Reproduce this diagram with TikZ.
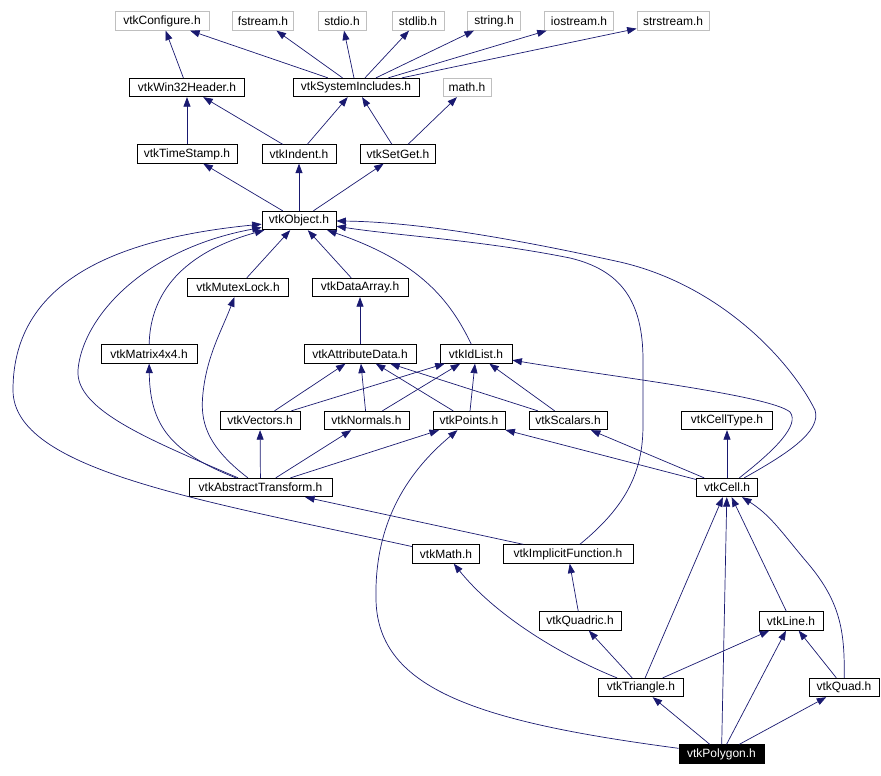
\documentclass[tikz,border=0pt]{standalone}
\usepackage{fontspec}
\setmainfont{Liberation Sans}
\usetikzlibrary{arrows.meta}
\definecolor{navy}{HTML}{191970}
\definecolor{sysgray}{HTML}{BFBFBF}
\tikzset{
  incbox/.style={
    rectangle, draw=black, fill=white, line width=0.8pt,
    minimum width=#1, minimum height=18.5pt,
    inner sep=1pt, font=\fontsize{12}{14}\selectfont
  },
  incbox/.default=70pt,
  sysbox/.style={incbox=#1, draw=sysgray},
  sysbox/.default=60pt,
  rootbox/.style={incbox=#1, fill=black, text=white},
  rootbox/.default=85pt,
  incarrow/.style={
    -{Triangle[length=9.5pt,width=7pt]}, line width=0.7pt, color=navy
  },
}
\begin{document}
\begin{tikzpicture}[x=1pt, y=-1pt]
  \useasboundingbox (0,0) rectangle (881,776);

  % system headers
  \node[sysbox=94pt] (configure) at (162,21) {vtkConfigure.h};
  \node[sysbox=61pt] (fstream) at (263,21) {fstream.h};
  \node[sysbox=48pt] (stdio) at (342,21) {stdio.h};
  \node[sysbox=52pt] (stdlib) at (418,21) {stdlib.h};
  \node[sysbox=53pt] (string) at (494,21) {string.h};
  \node[sysbox=69pt] (iostream) at (579,21) {iostream.h};
  \node[sysbox=72pt] (strstream) at (673,21) {strstream.h};
  \node[sysbox=48pt] (math) at (467,87.5) {math.h};

  % vtk headers
  \node[incbox=115pt] (win32) at (187,87.5) {vtkWin32Header.h};
  \node[incbox=126pt] (sysinc) at (356,87.5) {vtkSystemIncludes.h};
  \node[incbox=100pt] (tstamp) at (187,154) {vtkTimeStamp.h};
  \node[incbox=74pt] (indent) at (299,154) {vtkIndent.h};
  \node[incbox=75pt] (setget) at (398,154) {vtkSetGet.h};
  \node[incbox=74pt] (object) at (299,220.5) {vtkObject.h};
  \node[incbox=101pt] (mutex) at (238,287.5) {vtkMutexLock.h};
  \node[incbox=96pt] (darray) at (360,287.5) {vtkDataArray.h};
  \node[incbox=96pt] (matrix) at (149,354) {vtkMatrix4x4.h};
  \node[incbox=112pt] (attr) at (360,354) {vtkAttributeData.h};
  \node[incbox=72pt] (idlist) at (476,354) {vtkIdList.h};
  \node[incbox=80pt] (vectors) at (260,420.5) {vtkVectors.h};
  \node[incbox=85pt] (normals) at (366.5,420.5) {vtkNormals.h};
  \node[incbox=72pt] (points) at (469,420.5) {vtkPoints.h};
  \node[incbox=78pt] (scalars) at (568,420.5) {vtkScalars.h};
  \node[incbox=91pt] (celltype) at (727,420.5) {vtkCellType.h};
  \node[incbox=143pt] (atrans) at (260.5,487.5) {vtkAbstractTransform.h};
  \node[incbox=61pt] (cell) at (727,487.5) {vtkCell.h};
  \node[incbox=67pt] (vmath) at (446,554) {vtkMath.h};
  \node[incbox=130pt] (implicit) at (568,554) {vtkImplicitFunction.h};
  \node[incbox=82pt] (quadric) at (580,621) {vtkQuadric.h};
  \node[incbox=64pt] (line) at (791,621) {vtkLine.h};
  \node[incbox=85pt] (triangle) at (641,687.5) {vtkTriangle.h};
  \node[incbox=70pt] (quad) at (844,687.5) {vtkQuad.h};
  \node[rootbox=85pt] (polygon) at (721.5,754) {vtkPolygon.h};

  % includes of vtkSystemIncludes.h
  \foreach \target in {configure,fstream,stdio,stdlib,string,iostream,strstream}
    \draw[incarrow] (sysinc) -- (\target);
  \draw[incarrow] (win32) -- (configure);
  \draw[incarrow] (tstamp) -- (win32);
  \draw[incarrow] (indent) -- (win32);
  \draw[incarrow] (indent) -- (sysinc);
  \draw[incarrow] (setget) -- (sysinc);
  \draw[incarrow] (setget) -- (math);
  \draw[incarrow] (object) -- (tstamp);
  \draw[incarrow] (object) -- (indent);
  \draw[incarrow] (object) -- (setget);

  % everything that pulls in vtkObject.h
  \draw[incarrow] (mutex) -- (object);
  \draw[incarrow] (darray) -- (object);
  \draw[incarrow] (matrix) .. controls (150,300) and (175,255) .. (object);
  \draw[incarrow] (idlist) .. controls (450,300) and (420,262) .. (object);
  \draw[incarrow] (atrans) .. controls (150,440) and (75,410) .. (78,370)
    .. controls (82,320) and (140,250) .. (object);
  \draw[incarrow] (vmath) .. controls (200,500) and (13,470) .. (13,390)
    .. controls (13,290) and (100,240) .. (object);
  \draw[incarrow] (implicit) .. controls (628,505) and (643,470) .. (643,425)
    -- (643,360) .. controls (643,300) and (620,270) .. (570,258)
    .. controls (480,240) and (400,236) .. (object);
  \draw[incarrow] (cell) .. controls (785,455) and (822,432) .. (815,410)
    .. controls (790,360) and (720,285) .. (620,262)
    .. controls (520,240) and (420,222) .. (object);

  % data attributes
  \draw[incarrow] (attr) -- (darray);
  \foreach \source in {vectors,normals,points,scalars} {
    \draw[incarrow] (\source) -- (attr);
    \draw[incarrow] (\source) -- (idlist);
  }

  % vtkAbstractTransform.h
  \draw[incarrow] (atrans) -- (vectors);
  \draw[incarrow] (atrans) -- (normals);
  \draw[incarrow] (atrans) -- (points);
  \draw[incarrow] (atrans) .. controls (205,445) and (200,420) .. (203,393)
    .. controls (207,355) and (222,330) .. (mutex);
  \draw[incarrow] (atrans) .. controls (170,452) and (150,425) .. (matrix);

  % vtkCell.h
  \draw[incarrow] (cell) .. controls (775,450) and (800,425) .. (790,412)
    .. controls (770,395) and (600,375) .. (idlist);
  \draw[incarrow] (cell) -- (points);
  \draw[incarrow] (cell) -- (scalars);
  \draw[incarrow] (cell) -- (celltype);

  \draw[incarrow] (implicit) -- (atrans);
  \draw[incarrow] (quadric) -- (implicit);
  \draw[incarrow] (line) -- (cell);

  % cell types
  \draw[incarrow] (triangle) -- (cell);
  \draw[incarrow] (triangle) .. controls (560,655) and (495,615) .. (vmath);
  \draw[incarrow] (triangle) -- (quadric);
  \draw[incarrow] (triangle) -- (line);
  \draw[incarrow] (quad) .. controls (845,630) and (840,600) .. (805,560)
    .. controls (780,530) and (770,515) .. (cell);
  \draw[incarrow] (quad) -- (line);

  % vtkPolygon.h
  \draw[incarrow] (polygon) -- (triangle);
  \draw[incarrow] (polygon) -- (cell);
  \draw[incarrow] (polygon) -- (line);
  \draw[incarrow] (polygon) -- (quad);
  \draw[incarrow] (polygon) .. controls (480,722) and (378,690) .. (376,600)
    .. controls (374,520) and (410,470) .. (points);
\end{tikzpicture}
\end{document}
